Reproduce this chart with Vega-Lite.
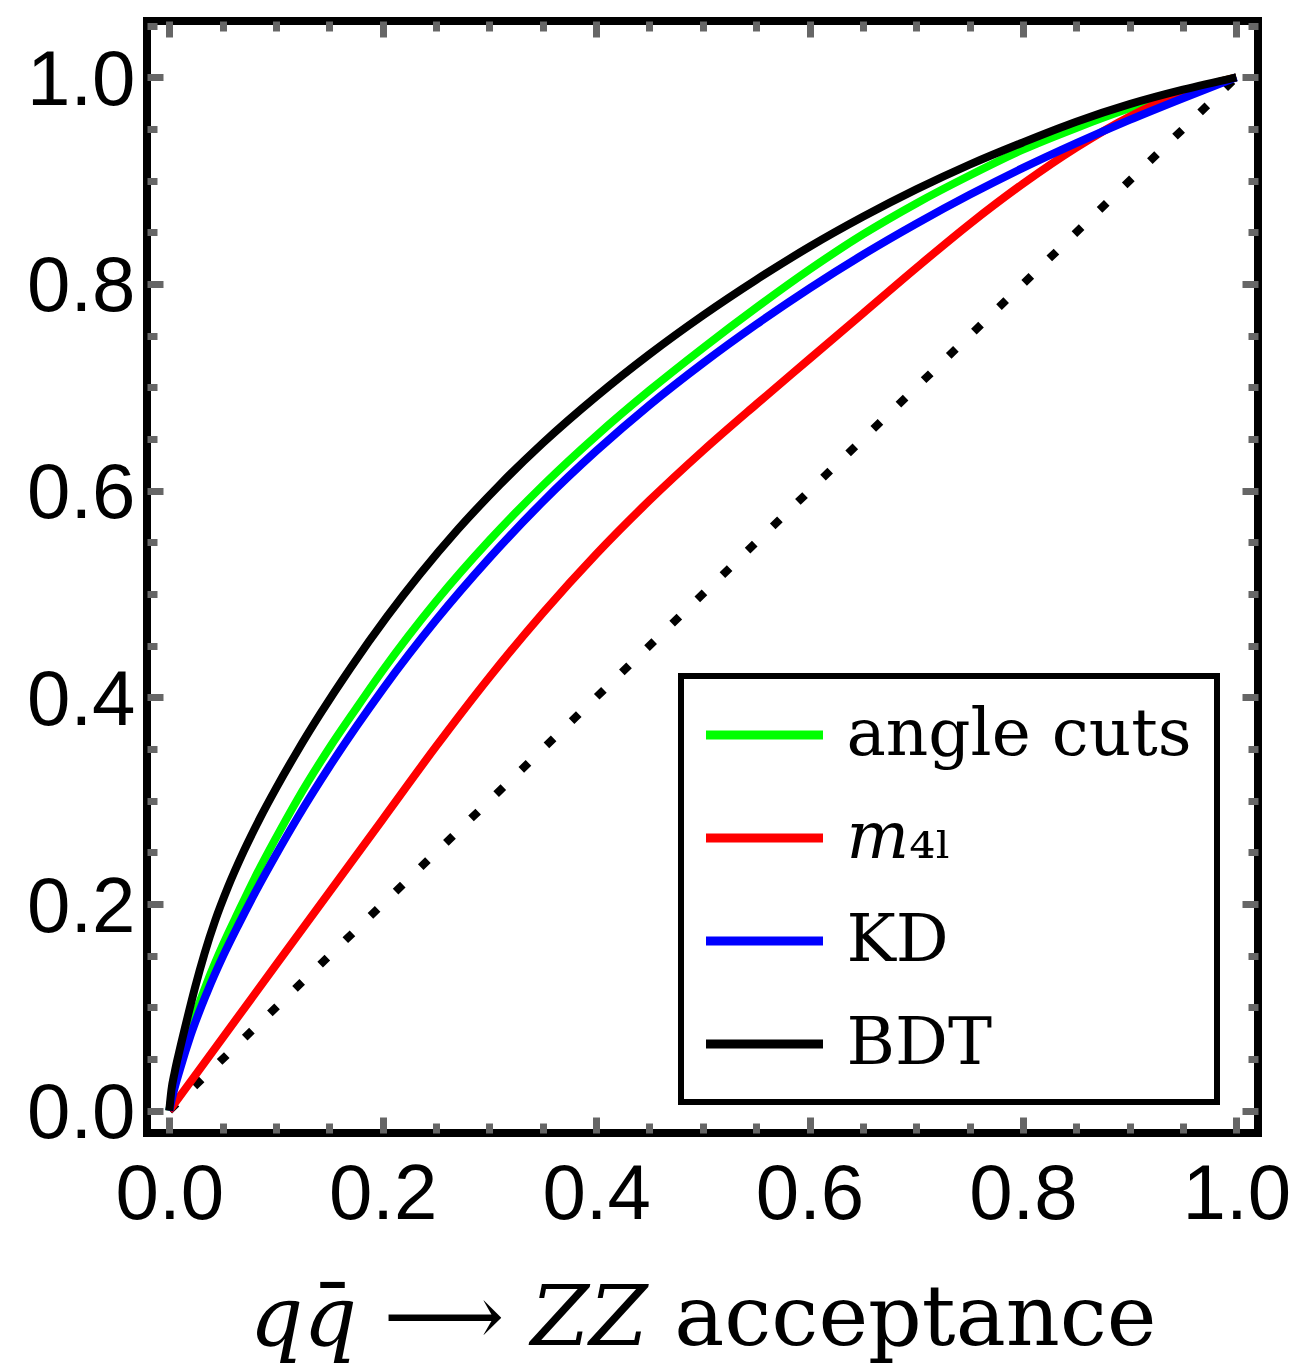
{
  "$schema": "https://vega.github.io/schema/vega-lite/v6.json",
  "autosize": {"type": "none"},
  "width": 1111,
  "height": 1112,
  "padding": {"left": 147, "top": 21, "right": 41, "bottom": 237},
  "background": "white",
  "config": {"view": {"stroke": "black", "strokeWidth": 8}},
  "datasets": {
    "diag": [{"bkg": 0, "sig": 0}, {"bkg": 1, "sig": 1}],
    "curves": [
      {"method": "angle cuts", "bkg": 0, "sig": 0},
      {"method": "angle cuts", "bkg": 0.003, "sig": 0.018},
      {"method": "angle cuts", "bkg": 0.01, "sig": 0.045},
      {"method": "angle cuts", "bkg": 0.02, "sig": 0.08},
      {"method": "angle cuts", "bkg": 0.035, "sig": 0.123},
      {"method": "angle cuts", "bkg": 0.05, "sig": 0.16},
      {"method": "angle cuts", "bkg": 0.065, "sig": 0.193},
      {"method": "angle cuts", "bkg": 0.08, "sig": 0.225},
      {"method": "angle cuts", "bkg": 0.1, "sig": 0.264},
      {"method": "angle cuts", "bkg": 0.12, "sig": 0.301},
      {"method": "angle cuts", "bkg": 0.15, "sig": 0.351},
      {"method": "angle cuts", "bkg": 0.175, "sig": 0.389},
      {"method": "angle cuts", "bkg": 0.2, "sig": 0.426},
      {"method": "angle cuts", "bkg": 0.25, "sig": 0.493},
      {"method": "angle cuts", "bkg": 0.3, "sig": 0.552},
      {"method": "angle cuts", "bkg": 0.35, "sig": 0.605},
      {"method": "angle cuts", "bkg": 0.4, "sig": 0.653},
      {"method": "angle cuts", "bkg": 0.45, "sig": 0.697},
      {"method": "angle cuts", "bkg": 0.5, "sig": 0.738},
      {"method": "angle cuts", "bkg": 0.55, "sig": 0.777},
      {"method": "angle cuts", "bkg": 0.6, "sig": 0.814},
      {"method": "angle cuts", "bkg": 0.65, "sig": 0.848},
      {"method": "angle cuts", "bkg": 0.7, "sig": 0.878},
      {"method": "angle cuts", "bkg": 0.75, "sig": 0.905},
      {"method": "angle cuts", "bkg": 0.8, "sig": 0.93},
      {"method": "angle cuts", "bkg": 0.85, "sig": 0.951},
      {"method": "angle cuts", "bkg": 0.9, "sig": 0.97},
      {"method": "angle cuts", "bkg": 0.95, "sig": 0.986},
      {"method": "angle cuts", "bkg": 1, "sig": 1},
      {"method": "𝑚₄ₗ", "bkg": 0, "sig": 0},
      {"method": "𝑚₄ₗ", "bkg": 0.05, "sig": 0.0705},
      {"method": "𝑚₄ₗ", "bkg": 0.1, "sig": 0.141},
      {"method": "𝑚₄ₗ", "bkg": 0.15, "sig": 0.2115},
      {"method": "𝑚₄ₗ", "bkg": 0.2, "sig": 0.282},
      {"method": "𝑚₄ₗ", "bkg": 0.25, "sig": 0.3525},
      {"method": "𝑚₄ₗ", "bkg": 0.3, "sig": 0.4195},
      {"method": "𝑚₄ₗ", "bkg": 0.35, "sig": 0.4815},
      {"method": "𝑚₄ₗ", "bkg": 0.4, "sig": 0.5385},
      {"method": "𝑚₄ₗ", "bkg": 0.45, "sig": 0.5905},
      {"method": "𝑚₄ₗ", "bkg": 0.5, "sig": 0.6385},
      {"method": "𝑚₄ₗ", "bkg": 0.55, "sig": 0.6835},
      {"method": "𝑚₄ₗ", "bkg": 0.6, "sig": 0.7275},
      {"method": "𝑚₄ₗ", "bkg": 0.65, "sig": 0.7715},
      {"method": "𝑚₄ₗ", "bkg": 0.7, "sig": 0.8155},
      {"method": "𝑚₄ₗ", "bkg": 0.75, "sig": 0.858},
      {"method": "𝑚₄ₗ", "bkg": 0.8, "sig": 0.897},
      {"method": "𝑚₄ₗ", "bkg": 0.85, "sig": 0.932},
      {"method": "𝑚₄ₗ", "bkg": 0.9, "sig": 0.962},
      {"method": "𝑚₄ₗ", "bkg": 0.95, "sig": 0.985},
      {"method": "𝑚₄ₗ", "bkg": 1, "sig": 1},
      {"method": "KD", "bkg": 0, "sig": 0},
      {"method": "KD", "bkg": 0.003, "sig": 0.014},
      {"method": "KD", "bkg": 0.01, "sig": 0.04},
      {"method": "KD", "bkg": 0.02, "sig": 0.073},
      {"method": "KD", "bkg": 0.035, "sig": 0.1135},
      {"method": "KD", "bkg": 0.05, "sig": 0.1488},
      {"method": "KD", "bkg": 0.065, "sig": 0.1803},
      {"method": "KD", "bkg": 0.08, "sig": 0.2103},
      {"method": "KD", "bkg": 0.1, "sig": 0.2477},
      {"method": "KD", "bkg": 0.12, "sig": 0.2833},
      {"method": "KD", "bkg": 0.15, "sig": 0.3328},
      {"method": "KD", "bkg": 0.175, "sig": 0.3713},
      {"method": "KD", "bkg": 0.2, "sig": 0.4078},
      {"method": "KD", "bkg": 0.25, "sig": 0.4748},
      {"method": "KD", "bkg": 0.3, "sig": 0.5348},
      {"method": "KD", "bkg": 0.35, "sig": 0.5893},
      {"method": "KD", "bkg": 0.4, "sig": 0.6383},
      {"method": "KD", "bkg": 0.45, "sig": 0.6828},
      {"method": "KD", "bkg": 0.5, "sig": 0.7233},
      {"method": "KD", "bkg": 0.55, "sig": 0.7608},
      {"method": "KD", "bkg": 0.6, "sig": 0.7958},
      {"method": "KD", "bkg": 0.65, "sig": 0.8283},
      {"method": "KD", "bkg": 0.7, "sig": 0.8583},
      {"method": "KD", "bkg": 0.75, "sig": 0.8863},
      {"method": "KD", "bkg": 0.8, "sig": 0.9123},
      {"method": "KD", "bkg": 0.85, "sig": 0.9363},
      {"method": "KD", "bkg": 0.9, "sig": 0.9588},
      {"method": "KD", "bkg": 0.95, "sig": 0.9798},
      {"method": "KD", "bkg": 1, "sig": 1},
      {"method": "BDT", "bkg": 0, "sig": 0},
      {"method": "BDT", "bkg": 0.002, "sig": 0.02},
      {"method": "BDT", "bkg": 0.005, "sig": 0.037},
      {"method": "BDT", "bkg": 0.01, "sig": 0.06},
      {"method": "BDT", "bkg": 0.017, "sig": 0.09},
      {"method": "BDT", "bkg": 0.024, "sig": 0.1187},
      {"method": "BDT", "bkg": 0.033, "sig": 0.152},
      {"method": "BDT", "bkg": 0.043, "sig": 0.184},
      {"method": "BDT", "bkg": 0.055, "sig": 0.2164},
      {"method": "BDT", "bkg": 0.07, "sig": 0.2516},
      {"method": "BDT", "bkg": 0.085, "sig": 0.2831},
      {"method": "BDT", "bkg": 0.1, "sig": 0.3119},
      {"method": "BDT", "bkg": 0.12, "sig": 0.3479},
      {"method": "BDT", "bkg": 0.141, "sig": 0.3832},
      {"method": "BDT", "bkg": 0.17, "sig": 0.4287},
      {"method": "BDT", "bkg": 0.204, "sig": 0.478},
      {"method": "BDT", "bkg": 0.235, "sig": 0.5193},
      {"method": "BDT", "bkg": 0.27, "sig": 0.562},
      {"method": "BDT", "bkg": 0.31, "sig": 0.606},
      {"method": "BDT", "bkg": 0.35, "sig": 0.646},
      {"method": "BDT", "bkg": 0.4, "sig": 0.691},
      {"method": "BDT", "bkg": 0.45, "sig": 0.732},
      {"method": "BDT", "bkg": 0.5, "sig": 0.7695},
      {"method": "BDT", "bkg": 0.55, "sig": 0.804},
      {"method": "BDT", "bkg": 0.6, "sig": 0.836},
      {"method": "BDT", "bkg": 0.65, "sig": 0.865},
      {"method": "BDT", "bkg": 0.7, "sig": 0.8915},
      {"method": "BDT", "bkg": 0.75, "sig": 0.9155},
      {"method": "BDT", "bkg": 0.8, "sig": 0.937},
      {"method": "BDT", "bkg": 0.85, "sig": 0.957},
      {"method": "BDT", "bkg": 0.9, "sig": 0.974},
      {"method": "BDT", "bkg": 0.95, "sig": 0.988},
      {"method": "BDT", "bkg": 1, "sig": 1}
    ]
  },
  "resolve": {"axis": {"x": "independent", "y": "independent"}},
  "layer": [
    {
      "data": {"name": "diag"},
      "mark": {"type": "line", "color": "black", "strokeWidth": 8, "strokeDash": [10, 25], "strokeCap": "butt"},
      "encoding": {
        "x": {"field": "bkg", "type": "quantitative",
          "scale": {"domain": [-0.0209, 1.0203], "nice": false, "zero": false},
          "axis": {"orient": "bottom", "values": [0, 0.2, 0.4, 0.6, 0.8, 1], "format": ".1f",
            "ticks": false, "domain": false, "grid": false,
            "labelFont": "Liberation Sans", "labelFontSize": 78, "labelColor": "black",
            "labelPadding": 23, "labelFlush": false, "labelOverlap": false,
            "title": "𝑞𝑞̄ ⟶ 𝑍𝑍 acceptance", "titleFont": "DejaVu Serif", "titleFontSize": 84,
            "titleFontWeight": "normal", "titleColor": "black", "titlePadding": 44}},
        "y": {"field": "sig", "type": "quantitative",
          "scale": {"domain": [-0.0216, 1.0545], "nice": false, "zero": false},
          "axis": {"orient": "left", "values": [0, 0.2, 0.4, 0.6, 0.8, 1], "format": ".1f",
            "ticks": false, "domain": false, "grid": false,
            "labelFont": "Liberation Sans", "labelFontSize": 78, "labelColor": "black",
            "labelPadding": 12, "labelOffset": 4, "labelFlush": false, "labelOverlap": false,
            "title": null}}
      }
    },
    {
      "data": {"name": "curves"},
      "mark": {"type": "line", "strokeWidth": 8, "interpolate": "monotone"},
      "encoding": {
        "x": {"field": "bkg", "type": "quantitative",
          "scale": {"domain": [-0.0209, 1.0203], "nice": false, "zero": false},
          "axis": {"orient": "bottom", "values": [0, 0.2, 0.4, 0.6, 0.8, 1], "labels": false,
            "domain": false, "grid": false, "ticks": true, "tickSize": -16, "tickWidth": 7,
            "tickColor": "#666666", "title": null, "zindex": 1}},
        "y": {"field": "sig", "type": "quantitative",
          "scale": {"domain": [-0.0216, 1.0545], "nice": false, "zero": false},
          "axis": {"orient": "left", "values": [0, 0.2, 0.4, 0.6, 0.8, 1], "labels": false,
            "domain": false, "grid": false, "ticks": true, "tickSize": -16, "tickWidth": 7,
            "tickColor": "#666666", "title": null, "zindex": 1}},
        "color": {"field": "method", "type": "nominal",
          "scale": {"domain": ["angle cuts", "𝑚₄ₗ", "KD", "BDT"],
                    "range": ["#00ff00", "#ff0000", "#0000ff", "#000000"]},
          "legend": {"orient": "none", "legendX": 534, "legendY": 655, "title": null,
            "strokeColor": "black", "fillColor": "white", "padding": 25,
            "symbolType": "M-2,0H2", "symbolSize": 3422, "symbolStrokeWidth": 9,
            "symbolOffset": 24.5, "labelOffset": 48, "rowPadding": 36,
            "labelFont": "DejaVu Serif", "labelFontSize": 66, "labelColor": "black", "labelLimit": 0,
            "encode": {"legend": {"update": {"strokeWidth": {"value": 6}}}}}}
      }
    },
    {
      "data": {"name": "diag"},
      "mark": {"type": "point", "opacity": 0},
      "encoding": {
        "x": {"field": "bkg", "type": "quantitative",
          "scale": {"domain": [-0.0209, 1.0203], "nice": false, "zero": false},
          "axis": {"orient": "bottom", "values": [0.05, 0.1, 0.15, 0.25, 0.3, 0.35, 0.45, 0.5, 0.55, 0.65, 0.7, 0.75, 0.85, 0.9, 0.95],
            "labels": false, "domain": false, "grid": false, "ticks": true, "tickSize": -10, "tickWidth": 7,
            "tickColor": "#666666", "title": null, "zindex": 1}},
        "y": {"field": "sig", "type": "quantitative",
          "scale": {"domain": [-0.0216, 1.0545], "nice": false, "zero": false},
          "axis": {"orient": "left", "values": [0.05, 0.1, 0.15, 0.25, 0.3, 0.35, 0.45, 0.5, 0.55, 0.65, 0.7, 0.75, 0.85, 0.9, 0.95, 1.05],
            "labels": false, "domain": false, "grid": false, "ticks": true, "tickSize": -10, "tickWidth": 7,
            "tickColor": "#666666", "title": null, "zindex": 1}}
      }
    },
    {
      "data": {"name": "diag"},
      "mark": {"type": "point", "opacity": 0},
      "encoding": {
        "x": {"field": "bkg", "type": "quantitative",
          "scale": {"domain": [-0.0209, 1.0203], "nice": false, "zero": false},
          "axis": {"orient": "top", "values": [0, 0.2, 0.4, 0.6, 0.8, 1], "labels": false,
            "domain": false, "grid": false, "ticks": true, "tickSize": -16, "tickWidth": 7,
            "tickColor": "#666666", "title": null, "zindex": 1}},
        "y": {"field": "sig", "type": "quantitative",
          "scale": {"domain": [-0.0216, 1.0545], "nice": false, "zero": false},
          "axis": {"orient": "right", "values": [0, 0.2, 0.4, 0.6, 0.8, 1], "labels": false,
            "domain": false, "grid": false, "ticks": true, "tickSize": -16, "tickWidth": 7,
            "tickColor": "#666666", "title": null, "zindex": 1}}
      }
    },
    {
      "data": {"name": "diag"},
      "mark": {"type": "point", "opacity": 0},
      "encoding": {
        "x": {"field": "bkg", "type": "quantitative",
          "scale": {"domain": [-0.0209, 1.0203], "nice": false, "zero": false},
          "axis": {"orient": "top", "values": [0.05, 0.1, 0.15, 0.25, 0.3, 0.35, 0.45, 0.5, 0.55, 0.65, 0.7, 0.75, 0.85, 0.9, 0.95],
            "labels": false, "domain": false, "grid": false, "ticks": true, "tickSize": -10, "tickWidth": 7,
            "tickColor": "#666666", "title": null, "zindex": 1}},
        "y": {"field": "sig", "type": "quantitative",
          "scale": {"domain": [-0.0216, 1.0545], "nice": false, "zero": false},
          "axis": {"orient": "right", "values": [0.05, 0.1, 0.15, 0.25, 0.3, 0.35, 0.45, 0.5, 0.55, 0.65, 0.7, 0.75, 0.85, 0.9, 0.95, 1.05],
            "labels": false, "domain": false, "grid": false, "ticks": true, "tickSize": -10, "tickWidth": 7,
            "tickColor": "#666666", "title": null, "zindex": 1}}
      }
    }
  ]
}
